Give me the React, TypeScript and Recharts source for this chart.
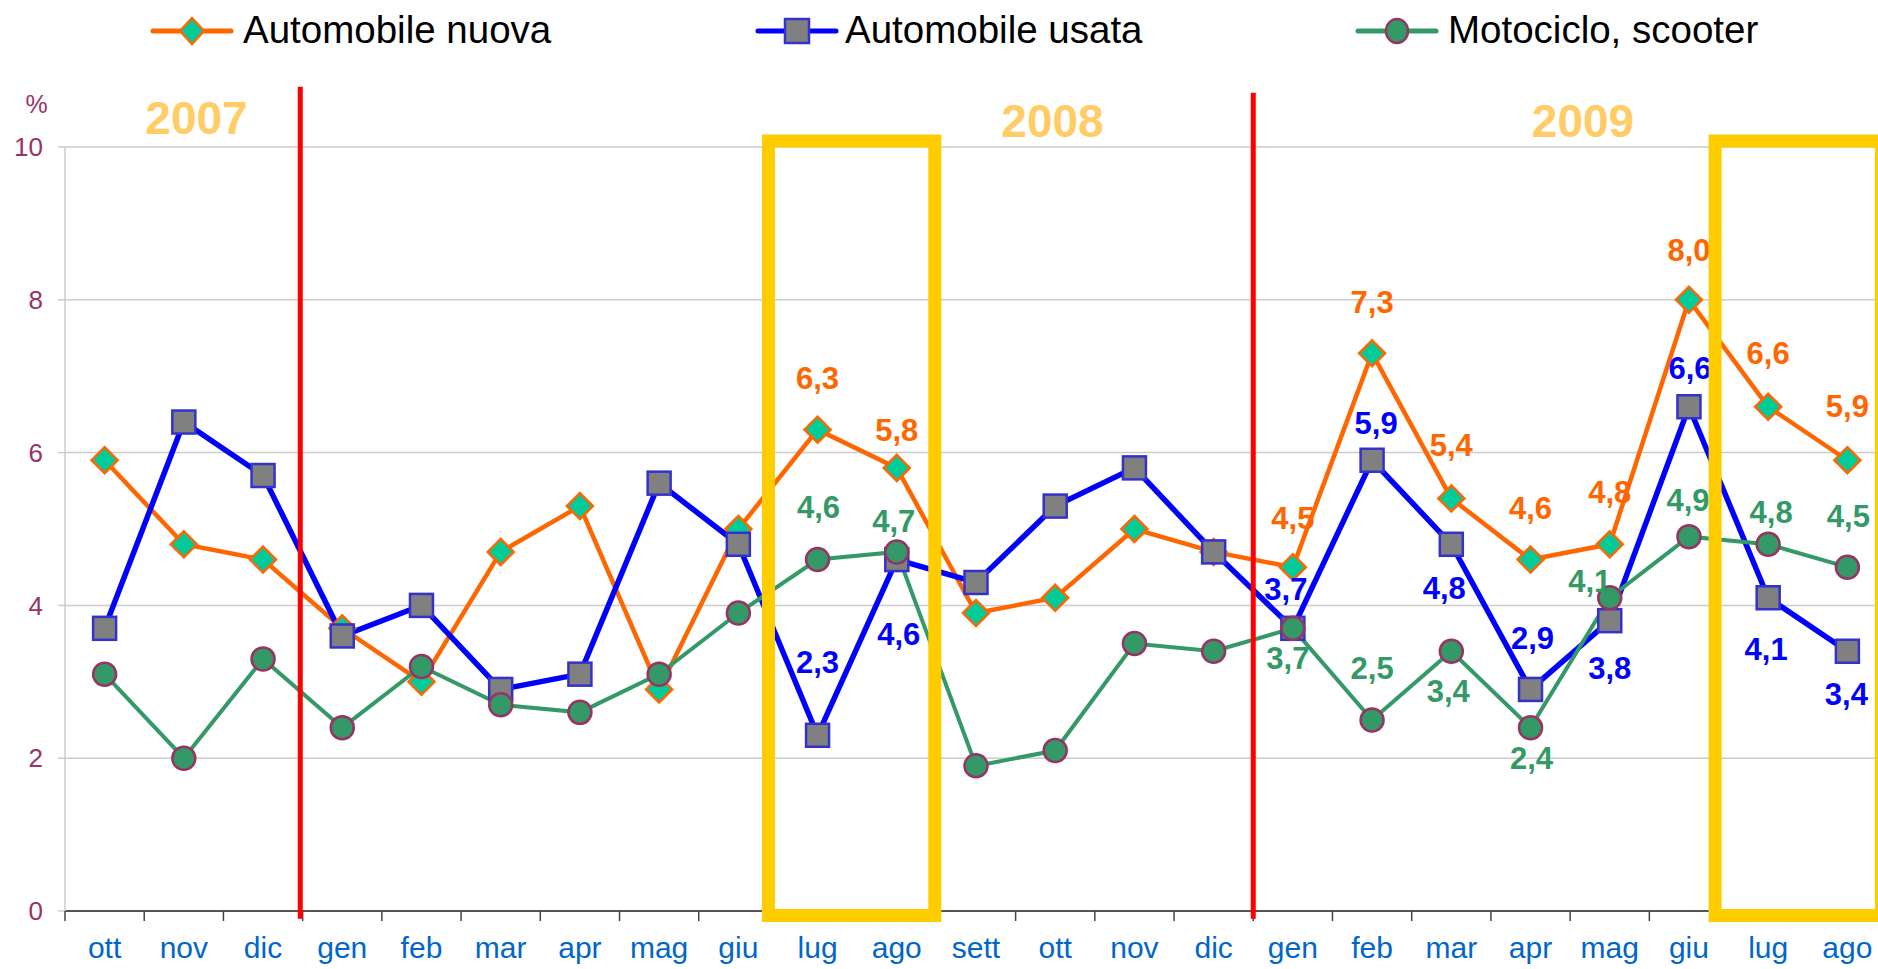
import React from 'react';
import { LineChart, Line, XAxis, YAxis, CartesianGrid, ReferenceLine, ReferenceArea } from 'recharts';

// ---- data ----
const months = ['ott', 'nov', 'dic', 'gen', 'feb', 'mar', 'apr', 'mag', 'giu', 'lug', 'ago', 'sett', 'ott', 'nov', 'dic', 'gen', 'feb', 'mar', 'apr', 'mag', 'giu', 'lug', 'ago'];
const nuova = [5.9, 4.8, 4.6, 3.7, 3.0, 4.7, 5.3, 2.9, 5.0, 6.3, 5.8, 3.9, 4.1, 5.0, 4.7, 4.5, 7.3, 5.4, 4.6, 4.8, 8.0, 6.6, 5.9];
const usata = [3.7, 6.4, 5.7, 3.6, 4.0, 2.9, 3.1, 5.6, 4.8, 2.3, 4.6, 4.3, 5.3, 5.8, 4.7, 3.7, 5.9, 4.8, 2.9, 3.8, 6.6, 4.1, 3.4];
const moto = [3.1, 2.0, 3.3, 2.4, 3.2, 2.7, 2.6, 3.1, 3.9, 4.6, 4.7, 1.9, 2.1, 3.5, 3.4, 3.7, 2.5, 3.4, 2.4, 4.1, 4.9, 4.8, 4.5];
const labeledIdx = [9, 10, 15, 16, 17, 18, 19, 20, 21, 22];
const yTicks = [0, 2, 4, 6, 8, 10];
const years = ['2007', '2008', '2009'];
const seriesNames = ['Automobile nuova', 'Automobile usata', 'Motociclo, scooter'];

// ---- label placement (style) ----
const nuovaOff: Record<number, [number, number]> = { 9: [0, -51], 10: [0, -37], 15: [0, -49], 16: [0, -51], 17: [0, -53], 18: [0, -51], 19: [0, -52], 20: [0, -49], 21: [0, -53], 22: [0, -54] };
const usataOff: Record<number, [number, number]> = { 9: [0, -73], 10: [2, 75], 15: [-7, -39], 16: [4, -37], 17: [-7, 44], 18: [2, -51], 19: [0, 48], 20: [1, -38], 21: [-2, 52], 22: [-1, 43] };
const motoOff: Record<number, [number, number]> = { 9: [1, -52], 10: [-3, -30], 15: [-5, 30], 16: [0, -52], 17: [-3, 40], 18: [1, 31], 19: [-20, -16], 20: [-1, -36], 21: [3, -32], 22: [1, -51] };

const data = months.map((m, i) => ({ x: i + 0.5, label: m, nuova: nuova[i], usata: usata[i], moto: moto[i] }));
const xTicks: number[] = [];
for (let i = 0; i <= months.length * 2; i++) xTicks.push(i / 2);

const ORANGE = '#FF6600';
const BLUE = '#0000FF';
const GREEN = '#339966';
const FONT = '"Liberation Sans", Arial, sans-serif';

const fmt = (v: number) => v.toFixed(1).replace('.', ',');

type Shape = 'diamond' | 'square' | 'circle';

const marker = (shape: Shape, cx: number, cy: number) => {
  if (shape === 'diamond') {
    return <path d={`M${cx},${cy - 13}L${cx + 13},${cy}L${cx},${cy + 13}L${cx - 13},${cy}Z`} fill="#00CC99" stroke={ORANGE} strokeWidth={2.5} />;
  }
  if (shape === 'square') {
    return <rect x={cx - 11.5} y={cy - 11.5} width={23} height={23} fill="#808080" stroke="#3333CC" strokeWidth={2.5} />;
  }
  return <circle cx={cx} cy={cy} r={11.5} fill={GREEN} stroke="#993366" strokeWidth={2.5} />;
};

const makeDot = (shape: Shape, color: string, offs: Record<number, [number, number]>, values: number[]) => (props: any) => {
  const { cx, cy, index } = props;
  if (cx == null || cy == null) return <g key={`e-${shape}-${index}`} />;
  const off = offs[index];
  return (
    <g key={`d-${shape}-${index}`}>
      {marker(shape, cx, cy)}
      {labeledIdx.includes(index) && off ? (
        <text x={cx + off[0]} y={cy + off[1]} textAnchor="middle" dominantBaseline="central" fill={color} fontFamily={FONT} fontWeight="bold" fontSize={31}>
          {fmt(values[index])}
        </text>
      ) : null}
    </g>
  );
};

const XTick = (props: any) => {
  const { x, y, payload } = props;
  const v = payload.value as number;
  if (Number.isInteger(v)) {
    return (
      <g>
        <line x1={x} y1={y} x2={x} y2={y + 10} stroke="#444" strokeWidth={1.5} />
      </g>
    );
  }
  const lbl = months[Math.floor(v)];
  return (
    <g>
      <text x={x} y={y + 47} textAnchor="middle" fill="#0066CC" fontFamily={FONT} fontSize={30}>
        {lbl}
      </text>
    </g>
  );
};

const Legend = () => {
  const items = [
    { name: seriesNames[0], color: ORANGE, shape: 'diamond' as Shape, x0: 153, tx: 243 },
    { name: seriesNames[1], color: BLUE, shape: 'square' as Shape, x0: 758, tx: 845 },
    { name: seriesNames[2], color: GREEN, shape: 'circle' as Shape, x0: 1358, tx: 1448 },
  ];
  return (
    <svg width={1878} height={160} style={{ position: 'absolute', left: 0, top: 0, pointerEvents: 'none' }}>
      {items.map((it) => (
        <g key={it.name}>
          <line x1={it.x0} y1={31} x2={it.x0 + 78} y2={31} stroke={it.color} strokeWidth={5} strokeLinecap="round" />
          {it.shape === 'diamond' ? (
            <path d={`M${it.x0 + 39},${31 - 13}L${it.x0 + 51},31L${it.x0 + 39},${31 + 13}L${it.x0 + 27},31Z`} fill="#00CC99" stroke={ORANGE} strokeWidth={2.5} />
          ) : it.shape === 'square' ? (
            <rect x={it.x0 + 27} y={19} width={24} height={24} fill="#808080" stroke="#3333CC" strokeWidth={2.5} />
          ) : (
            <ellipse cx={it.x0 + 39} cy={31} rx={11} ry={12} fill={GREEN} stroke="#993366" strokeWidth={2.5} />
          )}
          <text x={it.tx} y={43} fill="#000" fontFamily={FONT} fontSize={38.5}>
            {it.name}
          </text>
        </g>
      ))}
      <text x={196.5} y={134} textAnchor="middle" fill="#FFCC66" fontFamily={FONT} fontWeight="bold" fontSize={46}>{years[0]}</text>
      <text x={1052.5} y={137} textAnchor="middle" fill="#FFCC66" fontFamily={FONT} fontWeight="bold" fontSize={46}>{years[1]}</text>
      <text x={1583} y={137} textAnchor="middle" fill="#FFCC66" fontFamily={FONT} fontWeight="bold" fontSize={46}>{years[2]}</text>
      <text x={36.5} y={113} textAnchor="middle" fill="#993366" fontFamily={FONT} fontSize={25}>%</text>
    </svg>
  );
};

export default function App() {
  return (
    <div style={{ position: 'relative', width: 1878, height: 969, overflow: 'hidden', background: '#fff' }}>
      <style>{`html,body{margin:0;padding:0;overflow:hidden;background:#fff}`}</style>
      <div style={{ position: 'absolute', left: 0, top: 0 }}>
        <LineChart width={1900} height={969} data={data} margin={{ top: 147, right: 13, bottom: 0, left: 0 }}>
          <CartesianGrid vertical={false} stroke="#cccccc" strokeWidth={1.5} />
          <XAxis
            dataKey="x"
            type="number"
            domain={[0, 23]}
            ticks={xTicks}
            interval={0}
            tick={<XTick />}
            tickLine={false}
            tickSize={0}
            tickMargin={0}
            height={58}
            axisLine={{ stroke: '#555', strokeWidth: 2 }}
            allowDataOverflow
          />
          <YAxis
            type="number"
            domain={[0, 10]}
            ticks={yTicks}
            width={65}
            tickSize={7}
            tickMargin={15}
            axisLine={{ stroke: '#cccccc', strokeWidth: 1.5 }}
            tickLine={{ stroke: '#cccccc', strokeWidth: 1.5 }}
            tick={{ fill: '#993366', fontSize: 26, fontFamily: FONT }}
          />
          <Line
            dataKey="nuova"
            stroke={ORANGE}
            strokeWidth={4.5}
            isAnimationActive={false}
            dot={makeDot('diamond', ORANGE, nuovaOff, nuova)}
            activeDot={false}
          />
          <Line
            dataKey="usata"
            stroke={BLUE}
            strokeWidth={5.5}
            isAnimationActive={false}
            dot={makeDot('square', BLUE, usataOff, usata)}
            activeDot={false}
          />
          <Line
            dataKey="moto"
            stroke={GREEN}
            strokeWidth={4}
            isAnimationActive={false}
            dot={makeDot('circle', GREEN, motoOff, moto)}
            activeDot={false}
          />
        </LineChart>
      </div>
      <div style={{ position: 'absolute', left: 0, top: 0, pointerEvents: 'none' }}>
        <LineChart width={1900} height={969} data={data} margin={{ top: 147, right: 13, bottom: 58, left: 65 }}>
          <XAxis dataKey="x" type="number" domain={[0, 23]} hide allowDataOverflow />
          <YAxis type="number" domain={[0, 10]} hide allowDataOverflow />
          <ReferenceLine segment={[{ x: 2.97, y: -0.1 }, { x: 2.97, y: 10.79 }]} stroke="#FF0000" strokeWidth={5} ifOverflow="visible" />
          <ReferenceLine segment={[{ x: 15, y: -0.1 }, { x: 15, y: 10.71 }]} stroke="#FF0000" strokeWidth={5} ifOverflow="visible" />
          <ReferenceArea x1={8.88} x2={10.98} y1={-0.06} y2={10.08} fill="none" fillOpacity={0} stroke="#FFCC00" strokeWidth={13} strokeOpacity={1} ifOverflow="visible" />
          <ReferenceArea x1={20.83} x2={22.93} y1={-0.06} y2={10.08} fill="none" fillOpacity={0} stroke="#FFCC00" strokeWidth={13} strokeOpacity={1} ifOverflow="visible" />
        </LineChart>
      </div>
      <Legend />
    </div>
  );
}
